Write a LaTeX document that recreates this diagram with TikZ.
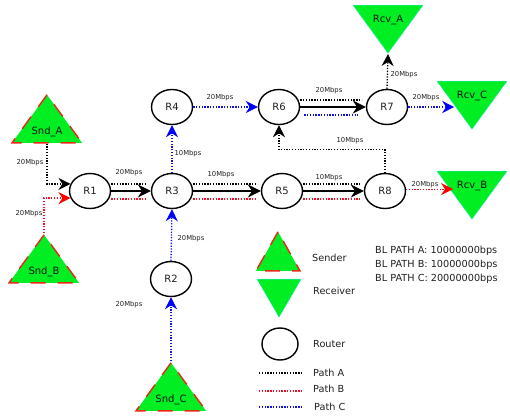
\documentclass[tikz,border=0pt]{standalone}
\usepackage{fontspec}
\setmainfont{DejaVu Sans}
\usetikzlibrary{arrows.meta, shapes.geometric}
\definecolor{trifill}{HTML}{00EE22}
\definecolor{sndline}{HTML}{E8281A}
\definecolor{rcvline}{HTML}{22EEDD}
\definecolor{pathared}{HTML}{F01020}
\definecolor{pathablue}{HTML}{1010E8}
\definecolor{txtgray}{HTML}{202020}
\newcommand{\rcvname}[1]{\raisebox{-2pt}[8pt][0pt]{#1}}
\tikzset{
  router/.style = {ellipse, draw=black, fill=white, line width=1.4pt, inner sep=0pt,
                   minimum width=41pt, minimum height=35pt, font=\fontsize{10}{12}\selectfont, text=txtgray},
  tribase/.style= {isosceles triangle, isosceles triangle stretches, inner sep=0pt, fill=trifill,
                   minimum width=70pt, minimum height=48pt, font=\fontsize{10}{12}\selectfont, text=txtgray!60!black},
  sndtri/.style = {tribase, shape border rotate=90, anchor=apex, draw=sndline, line width=1.4pt,
                   dash pattern=on 15pt off 12pt},
  rcvtri/.style = {tribase, shape border rotate=270, anchor=apex, draw=rcvline, line width=.6pt,
                   dash pattern=on 1pt off 1pt},
  lbl/.style    = {font=\fontsize{6.8}{8}\selectfont, text=txtgray, inner sep=0pt},
  txt/.style    = {font=\fontsize{9.7}{12}\selectfont, text=txtgray, inner sep=0pt, anchor=west},
  dots/.style   = {line width=1.3pt, dash pattern=on 1.3pt off 1.5pt},
  patha/.style  = {dots, draw=black},
  pathb/.style  = {dots, draw=pathared},
  pathc/.style  = {dots, draw=pathablue},
  flowa/.style  = {patha, -{Stealth[length=12pt, width=12pt, color=black]}},
  flowb/.style  = {pathb, -{Stealth[length=12pt, width=12pt, color=red]}},
  flowc/.style  = {pathc, -{Stealth[length=12pt, width=12pt, color=blue]}},
  link/.style   = {line width=1.5pt, draw=black, -{Stealth[length=13pt, width=13pt]}},
}
\begin{document}
\begin{tikzpicture}[x=1pt, y=-1pt]
    \useasboundingbox (0,0) rectangle (510,418);
    % routers
    \node[router] (R1) at (90,191)  {R1};
    \node[router] (R2) at (171,279) {R2};
    \node[router] (R3) at (172,191) {R3};
    \node[router] (R4) at (172,107) {R4};
    \node[router] (R5) at (282,191) {R5};
    \node[router] (R6) at (279,107) {R6};
    \node[router] (R7) at (387,107) {R7};
    \node[router] (R8) at (385,191) {R8};
    % senders and receivers
    \node[sndtri] (SndA) at (47,93)   {Snd\_A};
    \node[sndtri] (SndB) at (44,233)  {Snd\_B};
    \node[sndtri] (SndC) at (171,361) {Snd\_C};
    \node[rcvtri] (RcvA) at (388,54)  {\rcvname{Rcv\_A}};
    \node[rcvtri] (RcvC) at (472,130) {\rcvname{Rcv\_C}};
    \node[rcvtri] (RcvB) at (472,220) {\rcvname{Rcv\_B}};
    % main links
    \foreach \x/\y in {R1/R3, R3/R5, R5/R8, R6/R7}{\draw[link] (\x) -- (\y);}
    % side tracks
    \foreach \x/\y in {R1/R3, R3/R5, R5/R8, R6/R7}{
        \draw[patha] ([yshift=7pt]\x.east) -- ([yshift=7pt,xshift=-4pt]\y.west);
    }
    \foreach \x/\y in {R1/R3, R3/R5, R5/R8}{
        \draw[pathb] ([yshift=-8pt]\x.east) -- ([yshift=-8pt,xshift=-4pt]\y.west);
    }
    \draw[pathc] ([yshift=-8pt,xshift=4pt]R6.east) -- ([yshift=-8pt,xshift=-8pt]R7.west);
    % flows
    \draw[flowa] (SndA.lower side) |- (R1.160);
    \draw[flowb] (SndB.apex) |- (R1.200);
    \draw[flowc] (SndC.apex) -- (R2.south);
    \draw[flowc] (R2.north) -- (R3.south);
    \draw[flowc] (R3.north) -- (R4.south);
    \draw[flowc] (R4.east) -- (R6.west);
    \draw[flowc] (R7.east) -- (R7.east -| RcvC.right side);
    \draw[flowa] (R7.north) -- (RcvA.apex);
    \draw[flowb] (R8.5) -- +(47,0);
    \draw[flowa] (R8.north) -- ++(0,-23) -| (R6.south);
    % rates
    \node[lbl] (l1)  at (30,163)  {20Mbps};
    \node[lbl] (l2)  at (29,214)  {20Mbps};
    \node[lbl] (l3)  at (129,173) {20Mbps};
    \node[lbl] (l4)  at (188,154) {10Mbps};
    \node[lbl] (l5)  at (221,175) {10Mbps};
    \node[lbl] (l6)  at (220,98)  {20Mbps};
    \node[lbl] (l7)  at (191,239) {20Mbps};
    \node[lbl] (l8)  at (129,305) {20Mbps};
    \node[lbl] (l9)  at (329,91)  {20Mbps};
    \node[lbl] (l10) at (404,75)  {20Mbps};
    \node[lbl] (l11) at (426,98)  {20Mbps};
    \node[lbl] (l12) at (350,141) {10Mbps};
    \node[lbl] (l13) at (329,178) {10Mbps};
    \node[lbl] (l14) at (425,185) {20Mbps};
    % legend
    \node[sndtri, minimum width=44pt, minimum height=39pt] (keysnd) at (278,230) {};
    \node[rcvtri, minimum width=44pt, minimum height=38pt] (keyrcv) at (279,318) {};
    \node[router, minimum width=36pt, minimum height=32pt] (keyrtr) at (280,344) {};
    \node[txt] (tsnd) at (312,258) {Sender};
    \node[txt] (trcv) at (313,291) {Receiver};
    \node[txt] (trtr) at (313,344) {Router};
    \node[txt] (tpa)  at (313,373) {Path A};
    \node[txt] (tpb)  at (313,389) {Path B};
    \node[txt] (tpc)  at (314,407) {Path C};
    \coordinate (ka) at (259,373);
    \coordinate (kb) at (259,391);
    \coordinate (kc) at (259,407);
    \draw[patha] (ka) -- +(44,0);
    \draw[pathb] (kb) -- +(44,0);
    \draw[pathc] (kc) -- +(44,0);
    \node[txt] (bla) at (375,251) {BL PATH A: 10000000bps};
    \node[txt] (blb) at (375,265) {BL PATH B: 10000000bps};
    \node[txt] (blc) at (375,279) {BL PATH C: 20000000bps};
\end{tikzpicture}
\end{document}
